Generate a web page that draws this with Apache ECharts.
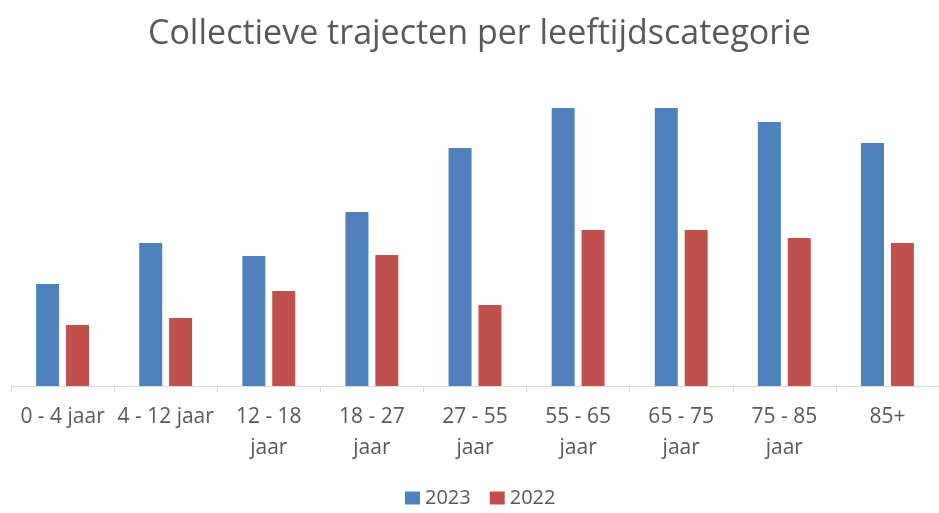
<!DOCTYPE html>
<html><head><meta charset="utf-8">
<script src="https://cdn.jsdelivr.net/npm/echarts@6/dist/echarts.min.js"></script>
<style>html,body{margin:0;padding:0;background:#fff}#c{width:939px;height:513px}</style>
</head><body><div id="c"></div>
<script>
const categories = ['0 - 4 jaar', '4 - 12 jaar', '12 - 18\njaar', '18 - 27\njaar', '27 - 55\njaar', '55 - 65\njaar', '65 - 75\njaar', '75 - 85\njaar', '85+'];
const values2023 = [102, 143, 130, 174, 238, 278, 278, 264, 243];
const values2022 = [61, 68, 95, 131, 81, 156, 156, 148, 143];
const seriesNames = ['2023', '2022'];
const titleText = 'Collectieve trajecten per leeftijdscategorie';

const chart = echarts.init(document.getElementById('c'), null, {renderer: 'canvas'});
const font = '"Open Sans", "Noto Sans", sans-serif';
chart.setOption({
  animation: false,
  backgroundColor: '#ffffff',
  title: {
    text: titleText, left: 143, top: 12,
    textStyle: {fontFamily: font, fontSize: 34, fontWeight: 'normal', color: '#595959'}
  },
  legend: {
    data: seriesNames, bottom: 0, left: 400, itemWidth: 15, itemHeight: 13, itemGap: 19,
    icon: 'rect',
    textStyle: {fontFamily: font, fontSize: 20, color: '#595959'}
  },
  grid: {left: 11, right: -10, top: 86, bottom: 127, containLabel: false},
  xAxis: {
    type: 'category', data: categories, boundaryGap: true,
    axisLine: {lineStyle: {color: '#d9d9d9', width: 1}},
    axisTick: {show: true, alignWithLabel: false, length: 6, lineStyle: {color: '#d9d9d9'}},
    axisLabel: {fontFamily: font, fontSize: 21, color: '#595959', lineHeight: 31, margin: 16, interval: 0}
  },
  yAxis: {type: 'value', min: 0, max: 300, show: false, splitLine: {show: false}},
  series: [
    {name: seriesNames[0], type: 'bar', data: values2023, barWidth: 23, barGap: '30%', itemStyle: {color: '#4F81BD'}},
    {name: seriesNames[1], type: 'bar', data: values2022, barWidth: 23, barGap: '30%', itemStyle: {color: '#C0504D'}}
  ]
});
</script></body></html>
